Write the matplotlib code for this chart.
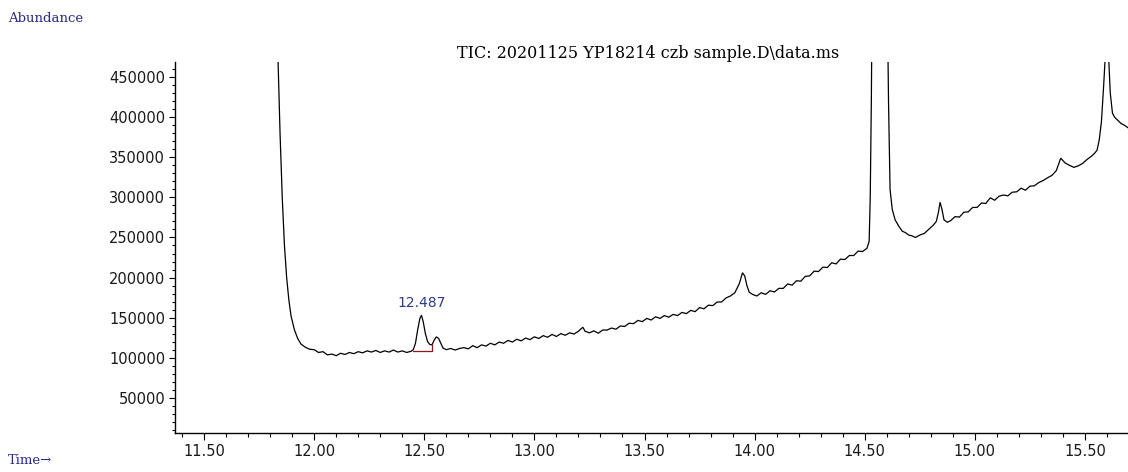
import matplotlib
matplotlib.use("Agg")
import matplotlib.pyplot as plt
from matplotlib.ticker import MultipleLocator, FormatStrFormatter

# Total ion chromatogram, retention time (min) vs abundance
time_min = [
    11.830, 11.836, 11.845, 11.855, 11.865, 11.875, 11.885, 11.895, 11.910, 11.925,
    11.940, 11.960, 11.980, 12.000, 12.020, 12.040, 12.060, 12.080, 12.100, 12.120,
    12.140, 12.160, 12.180, 12.200, 12.220, 12.240, 12.260, 12.280, 12.300, 12.320,
    12.340, 12.360, 12.380, 12.400, 12.420, 12.440, 12.450, 12.460, 12.470, 12.480,
    12.487, 12.495, 12.505, 12.515, 12.525, 12.535, 12.545, 12.555, 12.565, 12.575,
    12.585, 12.600, 12.620, 12.640, 12.660, 12.680, 12.700, 12.720, 12.740, 12.760,
    12.780, 12.800, 12.820, 12.840, 12.860, 12.880, 12.900, 12.920, 12.940, 12.960,
    12.980, 13.000, 13.020, 13.040, 13.060, 13.080, 13.100, 13.120, 13.140, 13.160,
    13.180, 13.200, 13.220, 13.230, 13.250, 13.270, 13.290, 13.310, 13.330, 13.350,
    13.370, 13.390, 13.410, 13.430, 13.450, 13.470, 13.490, 13.510, 13.530, 13.550,
    13.570, 13.590, 13.610, 13.630, 13.650, 13.670, 13.690, 13.710, 13.730, 13.750,
    13.770, 13.790, 13.810, 13.830, 13.850, 13.870, 13.890, 13.910, 13.930, 13.945,
    13.955, 13.965, 13.975, 13.990, 14.010, 14.030, 14.050, 14.070, 14.090, 14.110,
    14.130, 14.150, 14.170, 14.190, 14.210, 14.230, 14.250, 14.270, 14.290, 14.310,
    14.330, 14.350, 14.370, 14.390, 14.410, 14.430, 14.450, 14.470, 14.490, 14.510,
    14.520, 14.525, 14.530, 14.535, 14.560, 14.590, 14.602, 14.608, 14.615, 14.625,
    14.638, 14.655, 14.670, 14.685, 14.700, 14.715, 14.730, 14.750, 14.770, 14.790,
    14.810, 14.825, 14.835, 14.842, 14.850, 14.860, 14.875, 14.890, 14.910, 14.930,
    14.950, 14.970, 14.990, 15.010, 15.030, 15.050, 15.070, 15.090, 15.110, 15.130,
    15.150, 15.170, 15.190, 15.210, 15.230, 15.250, 15.270, 15.290, 15.310, 15.330,
    15.350, 15.370, 15.390, 15.410, 15.430, 15.450, 15.470, 15.490, 15.510, 15.530,
    15.545, 15.555, 15.565, 15.575, 15.585, 15.595, 15.605, 15.615, 15.625, 15.635,
    15.650, 15.665, 15.680, 15.700,
]

abundance = [
    620000, 470000, 380000, 300000, 240000, 200000, 172000, 152000, 135000, 124000,
    117000, 113000, 110500, 110000, 106500, 107500, 103500, 104500, 102500, 105500,
    104000, 106500, 105000, 107500, 106000, 108500, 107000, 109000, 106500, 108500,
    107000, 109500, 107000, 108500, 106500, 108000, 110000, 118000, 135000, 149000,
    153000, 145000, 130000, 120000, 116500, 116000, 122000, 126000, 124000, 118000,
    112000, 110000, 111500, 109500, 111500, 112500, 111000, 115000, 112500, 116000,
    114500, 118000, 116000, 119500, 118000, 121500, 119500, 123000, 121000, 124500,
    122500, 126000, 124000, 127500, 125500, 129000, 126500, 130000, 128000, 131000,
    129500, 133000, 138000, 133000, 131000, 133500, 130500, 134500, 134500, 137000,
    135500, 139500, 139000, 143000, 142500, 146500, 145000, 149000, 147000, 151000,
    149000, 152500, 150500, 154000, 152500, 156500, 155000, 159000, 157500, 162500,
    161000, 165500, 165000, 169500, 169500, 174500, 177000, 181000, 192000, 206000,
    202000, 190000, 182000, 179000, 177000, 181000, 179000, 183500, 182000, 186500,
    186500, 192000, 190500, 196000, 195500, 201500, 202000, 208000, 207500, 213000,
    212500, 218500, 217000, 223000, 222500, 227500, 227500, 233000, 232500, 236500,
    245000, 300000, 420000, 600000, 900000, 900000, 560000, 420000, 310000, 285000,
    272000, 264000, 258000, 256000, 253000, 252000, 250000, 253000, 255000, 260000,
    265000, 270000, 282000, 294000, 286000, 272000, 269000, 271000, 276000, 275500,
    281500, 282000, 287500, 287500, 293000, 292500, 299500, 296500, 301500, 303000,
    302000, 306500, 307000, 311500, 309000, 314000, 314500, 318500, 321000, 324500,
    327500, 333500, 349000, 343000, 340000, 337500, 339500, 342500, 347500, 351500,
    355500, 359000, 372000, 395000, 440000, 490000, 490000, 430000, 405000, 400000,
    396000, 392000, 390000, 386000,
]

# Integration baseline drawn under the labelled peak
peak_rt = 12.487
peak_height = 153000
base_t = [12.448, 12.536, 12.536]
base_y = [108000, 108000, 117000]

x_min, x_max = 11.368, 15.70
y_min, y_max = 6000, 469000

fig = plt.figure(figsize=(11.28, 4.72), dpi=100)
ax = fig.add_axes([175 / 1128, 39 / 472, 954 / 1128, 371 / 472])

ax.plot(time_min, abundance, color="black", lw=0.9, solid_joinstyle="miter")
ax.plot(base_t, base_y, color="#8b1a1a", lw=0.9)

ax.annotate(f"{peak_rt:.3f}", xy=(peak_rt, peak_height), xytext=(0, 4),
            textcoords="offset points", ha="center", va="bottom",
            fontsize=10, color="#2e3a8c", family="DejaVu Sans")

ax.set_xlim(x_min, x_max)
ax.set_ylim(y_min, y_max)

for side in ("top", "right"):
    ax.spines[side].set_visible(False)
for side in ("left", "bottom"):
    ax.spines[side].set_linewidth(1.0)

ax.xaxis.set_major_locator(MultipleLocator(0.5))
ax.xaxis.set_minor_locator(MultipleLocator(0.1))
ax.xaxis.set_major_formatter(FormatStrFormatter("%.2f"))
ax.yaxis.set_major_locator(MultipleLocator(50000))
ax.yaxis.set_minor_locator(MultipleLocator(10000))
ax.yaxis.set_major_formatter(FormatStrFormatter("%d"))

ax.tick_params(axis="x", which="major", length=5, width=0.8, pad=3,
               labelsize=10.5, labelcolor="#1a1a1a")
ax.tick_params(axis="x", which="minor", length=3, width=0.8)
ax.tick_params(axis="y", which="major", length=4, width=0.8, pad=3,
               labelsize=10.5, labelcolor="#1a1a1a")
ax.tick_params(axis="y", which="minor", length=2, width=0.8)

fig.text(648 / 1128, 1 - 53 / 472, "TIC: 20201125 YP18214 czb sample.D\\data.ms",
         ha="center", va="center", fontsize=11.5, family="DejaVu Serif", color="black")
fig.text(8 / 1128, 1 - 18 / 472, "Abundance", ha="left", va="center",
         fontsize=9.5, family="DejaVu Serif", color="#2b2b8c")
fig.text(8 / 1128, 1 - 461 / 472, "Time\u2192", ha="left", va="center",
         fontsize=9.5, family="DejaVu Serif", color="#2b2b8c")

fig.savefig("out.png", dpi=100)
